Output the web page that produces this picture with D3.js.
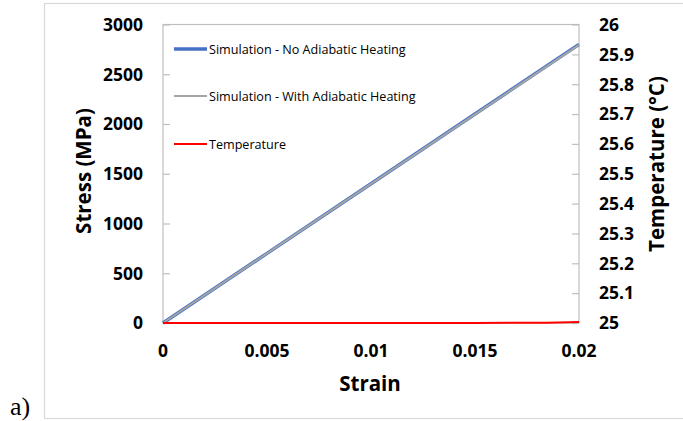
<!DOCTYPE html>
<html>
<head>
<meta charset="utf-8">
<script src="https://cdn.jsdelivr.net/npm/d3@7"></script>
<style>
  html, body { margin: 0; padding: 0; background: #fff; }
  svg { display: block; }
  text { font-family: "Open Sans", "Liberation Sans", sans-serif; fill: #000; }
</style>
</head>
<body>
<svg id="chart" width="683" height="421"></svg>
<script>
// Strain samples (x) and the two stress curves (MPa)
const strain = [0, 0.005, 0.01, 0.015, 0.02];
const stressNoHeating = [0, 700, 1400, 2100, 2800];
const stressWithHeating = [0, 699, 1398, 2097, 2796];

// Temperature history (°C) on its own strain samples
const tempStrain = [0, 0.005, 0.01, 0.015, 0.0185, 0.02];
const temperature = [25, 25, 25, 25.0004, 25.001, 25.003];

// Tick values
const strainTicks = [0, 0.005, 0.01, 0.015, 0.02];
const strainTickLabels = ["0", "0.005", "0.01", "0.015", "0.02"];
const stressTicks = [0, 500, 1000, 1500, 2000, 2500, 3000];
const tempTicks = [25, 25.1, 25.2, 25.3, 25.4, 25.5, 25.6, 25.7, 25.8, 25.9, 26];
const tempTickLabels = ["25", "25.1", "25.2", "25.3", "25.4", "25.5", "25.6", "25.7", "25.8", "25.9", "26"];

const legendItems = [
  { label: "Simulation - No Adiabatic Heating", color: "#4472C4", width: 3.5 },
  { label: "Simulation - With Adiabatic Heating", color: "#A5A5A5", width: 2 },
  { label: "Temperature", color: "#FF0000", width: 2 }
];

const svg = d3.select("#chart");
const plot = { left: 163, right: 579, top: 24.5, bottom: 323 };

const x = d3.scaleLinear().domain([0, 0.02]).range([plot.left, plot.right]);
const yStress = d3.scaleLinear().domain([0, 3000]).range([plot.bottom, plot.top]);
const yTemp = d3.scaleLinear().domain([25, 26]).range([plot.bottom, plot.top]);

// Outer chart frame
svg.append("rect")
  .attr("x", 44.5).attr("y", 3.5).attr("width", 700).attr("height", 415)
  .attr("fill", "none").attr("stroke", "#D9D9D9").attr("stroke-width", 1.2);

// Plot area frame
svg.append("rect")
  .attr("x", plot.left).attr("y", plot.top)
  .attr("width", plot.right - plot.left).attr("height", plot.bottom - plot.top)
  .attr("fill", "none").attr("stroke", "#BFBFBF").attr("stroke-width", 1.2);

// Left stress axis: inward ticks, labels placed on the outside
const leftAxis = svg.append("g")
  .attr("transform", `translate(${plot.left},0)`)
  .call(d3.axisRight(yStress).tickValues(stressTicks).tickSize(7).tickFormat(""));
leftAxis.select(".domain").remove();
leftAxis.selectAll("line").attr("stroke", "#BFBFBF").attr("stroke-width", 1.2);
svg.append("g").selectAll("text").data(stressTicks).join("text")
  .attr("x", 143).attr("y", d => yStress(d)).attr("dy", "0.36em")
  .attr("text-anchor", "end").attr("font-size", 17.5).attr("font-weight", "bold")
  .text(d => d);

// Right temperature axis
const rightAxis = svg.append("g")
  .attr("transform", `translate(${plot.right},0)`)
  .call(d3.axisLeft(yTemp).tickValues(tempTicks).tickSize(7).tickFormat(""));
rightAxis.select(".domain").remove();
rightAxis.selectAll("line").attr("stroke", "#BFBFBF").attr("stroke-width", 1.2);
svg.append("g").selectAll("text").data(tempTicks).join("text")
  .attr("x", 599).attr("y", d => yTemp(d)).attr("dy", "0.36em")
  .attr("text-anchor", "start").attr("font-size", 17.5).attr("font-weight", "bold")
  .text((d, i) => tempTickLabels[i]);

// Bottom strain labels
svg.append("g").selectAll("text").data(strainTicks).join("text")
  .attr("x", d => x(d)).attr("y", 357)
  .attr("text-anchor", "middle").attr("font-size", 17.5).attr("font-weight", "bold")
  .text((d, i) => strainTickLabels[i]);

// Axis titles
svg.append("text")
  .attr("x", 370).attr("y", 391).attr("text-anchor", "middle")
  .attr("font-size", 20.5).attr("font-weight", "bold").text("Strain");
svg.append("text")
  .attr("transform", "translate(91,171) rotate(-90)").attr("text-anchor", "middle")
  .attr("font-size", 20.5).attr("font-weight", "bold").text("Stress (MPa)");
svg.append("text")
  .attr("transform", "translate(664,164) rotate(-90)").attr("text-anchor", "middle")
  .attr("font-size", 20.5).attr("font-weight", "bold").text("Temperature (°C)");

// Panel tag
svg.append("text")
  .attr("x", 10).attr("y", 415)
  .style("font-family", "'Liberation Serif', 'Times New Roman', serif")
  .attr("font-size", 26).text("a)");

// Series lines
const stressLine = vals => d3.line().x((d, i) => x(strain[i])).y(d => yStress(d))(vals);
svg.append("path").attr("d", stressLine(stressNoHeating))
  .attr("fill", "none").attr("stroke", "#4472C4").attr("stroke-width", 3.5);
svg.append("path").attr("d", stressLine(stressWithHeating))
  .attr("fill", "none").attr("stroke", "#A5A5A5").attr("stroke-width", 2);
svg.append("path")
  .attr("d", d3.line().x((d, i) => x(tempStrain[i])).y(d => yTemp(d))(temperature))
  .attr("fill", "none").attr("stroke", "#FF0000").attr("stroke-width", 2);

// Legend
const legendRows = [49, 96, 144];
const lg = svg.append("g");
legendItems.forEach((item, i) => {
  lg.append("line")
    .attr("x1", 174).attr("x2", 207).attr("y1", legendRows[i]).attr("y2", legendRows[i])
    .attr("stroke", item.color).attr("stroke-width", item.width);
  lg.append("text")
    .attr("x", 209).attr("y", legendRows[i]).attr("dy", "0.36em")
    .attr("font-size", 12.6).text(item.label);
});
</script>
</body>
</html>
